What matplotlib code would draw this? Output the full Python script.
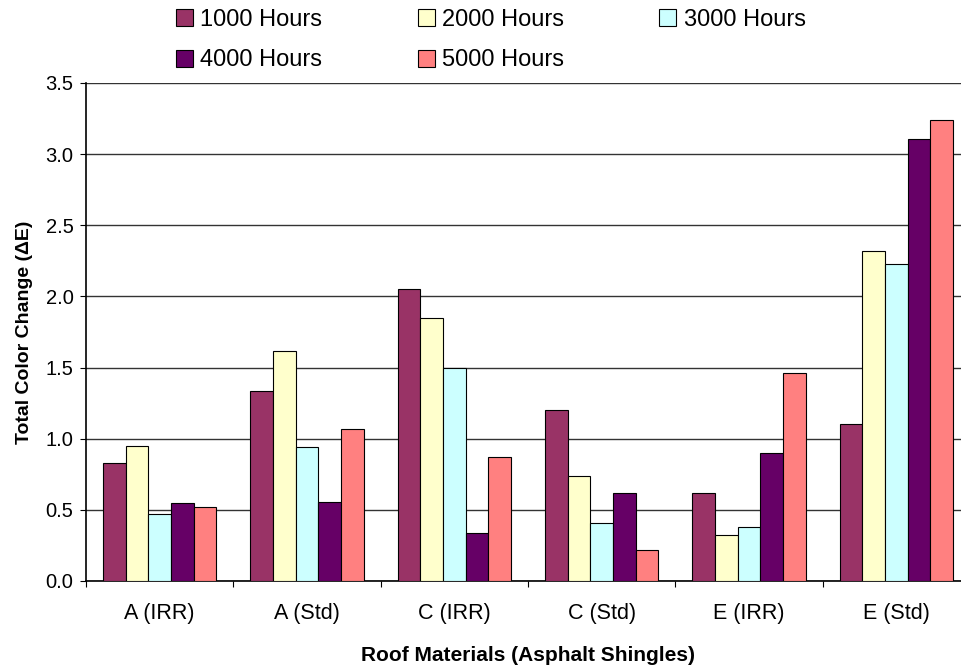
import numpy as np
import matplotlib.pyplot as plt

plt.rcParams["font.family"] = ["Liberation Sans", "DejaVu Sans"]

# data
materials = ["A (IRR)", "A (Std)", "C (IRR)", "C (Std)", "E (IRR)", "E (Std)"]
series = ["1000 Hours", "2000 Hours", "3000 Hours", "4000 Hours", "5000 Hours"]
h1000 = [0.83, 1.335, 2.05, 1.20, 0.62, 1.10]
h2000 = [0.95, 1.615, 1.85, 0.74, 0.32, 2.32]
h3000 = [0.47, 0.94, 1.50, 0.41, 0.38, 2.225]
h4000 = [0.545, 0.555, 0.34, 0.62, 0.90, 3.105]
h5000 = [0.52, 1.065, 0.87, 0.22, 1.46, 3.24]
colors = ["#993366", "#FFFFCC", "#CCFFFF", "#660066", "#FF8080"]

values = [h1000, h2000, h3000, h4000, h5000]

fig = plt.figure(figsize=(9.62, 6.68), dpi=100)
# plot area runs past the right edge, like the cropped original
ax = fig.add_axes([86 / 962, 87 / 668, 884 / 962, 498 / 668])

x = np.arange(len(materials))
w = 0.154
bars = []
for i, (name, vals) in enumerate(zip(series, values)):
    b = ax.bar(x + (i - 2) * w, vals, w, color=colors[i], edgecolor="black",
               linewidth=0.8, label=name, zorder=3)
    bars.append(b)

ax.set_xlim(-0.5, len(materials) - 0.5)
ax.set_ylim(0, 3.5)
ax.set_yticks(np.arange(0, 3.51, 0.5))
ax.set_yticklabels([f"{v:.1f}" for v in np.arange(0, 3.51, 0.5)])
ax.yaxis.grid(True, color="#333333", linewidth=1.0, zorder=0)
ax.set_axisbelow(True)

ax.set_xticks(x)
ax.set_xticklabels(materials)
ax.set_xticks(np.arange(-0.5, len(materials), 1.0), minor=True)
ax.tick_params(axis="x", which="major", length=0, pad=16, labelsize=15.5)
ax.tick_params(axis="x", which="minor", length=4, width=0.8, direction="out")
ax.tick_params(axis="y", length=4, width=0.8, direction="out", pad=5,
               labelsize=14.5)

for s in ["top", "right"]:
    ax.spines[s].set_visible(False)
for s in ["left", "bottom"]:
    ax.spines[s].set_linewidth(1.2)

ax.set_xlabel("Roof Materials (Asphalt Shingles)", fontsize=15,
              fontweight="bold", labelpad=16)
ax.set_ylabel("Total Color Change (\u0394E)", fontsize=14,
              fontweight="bold", labelpad=9)

# legend fills column by column; reorder so rows read 1000, 2000, 3000 / 4000, 5000
order = [0, 3, 1, 4, 2]
fig.legend([bars[k] for k in order], [series[k] for k in order],
           loc="upper left", bbox_to_anchor=(176 / 962, 1 - 9 / 668),
           ncol=3, frameon=False, fontsize=17, handlelength=0.72,
           handleheight=0.72, handletextpad=0.3, columnspacing=4.05,
           labelspacing=0.78, borderpad=0, borderaxespad=0)

plt.savefig("out.png", dpi=100)
